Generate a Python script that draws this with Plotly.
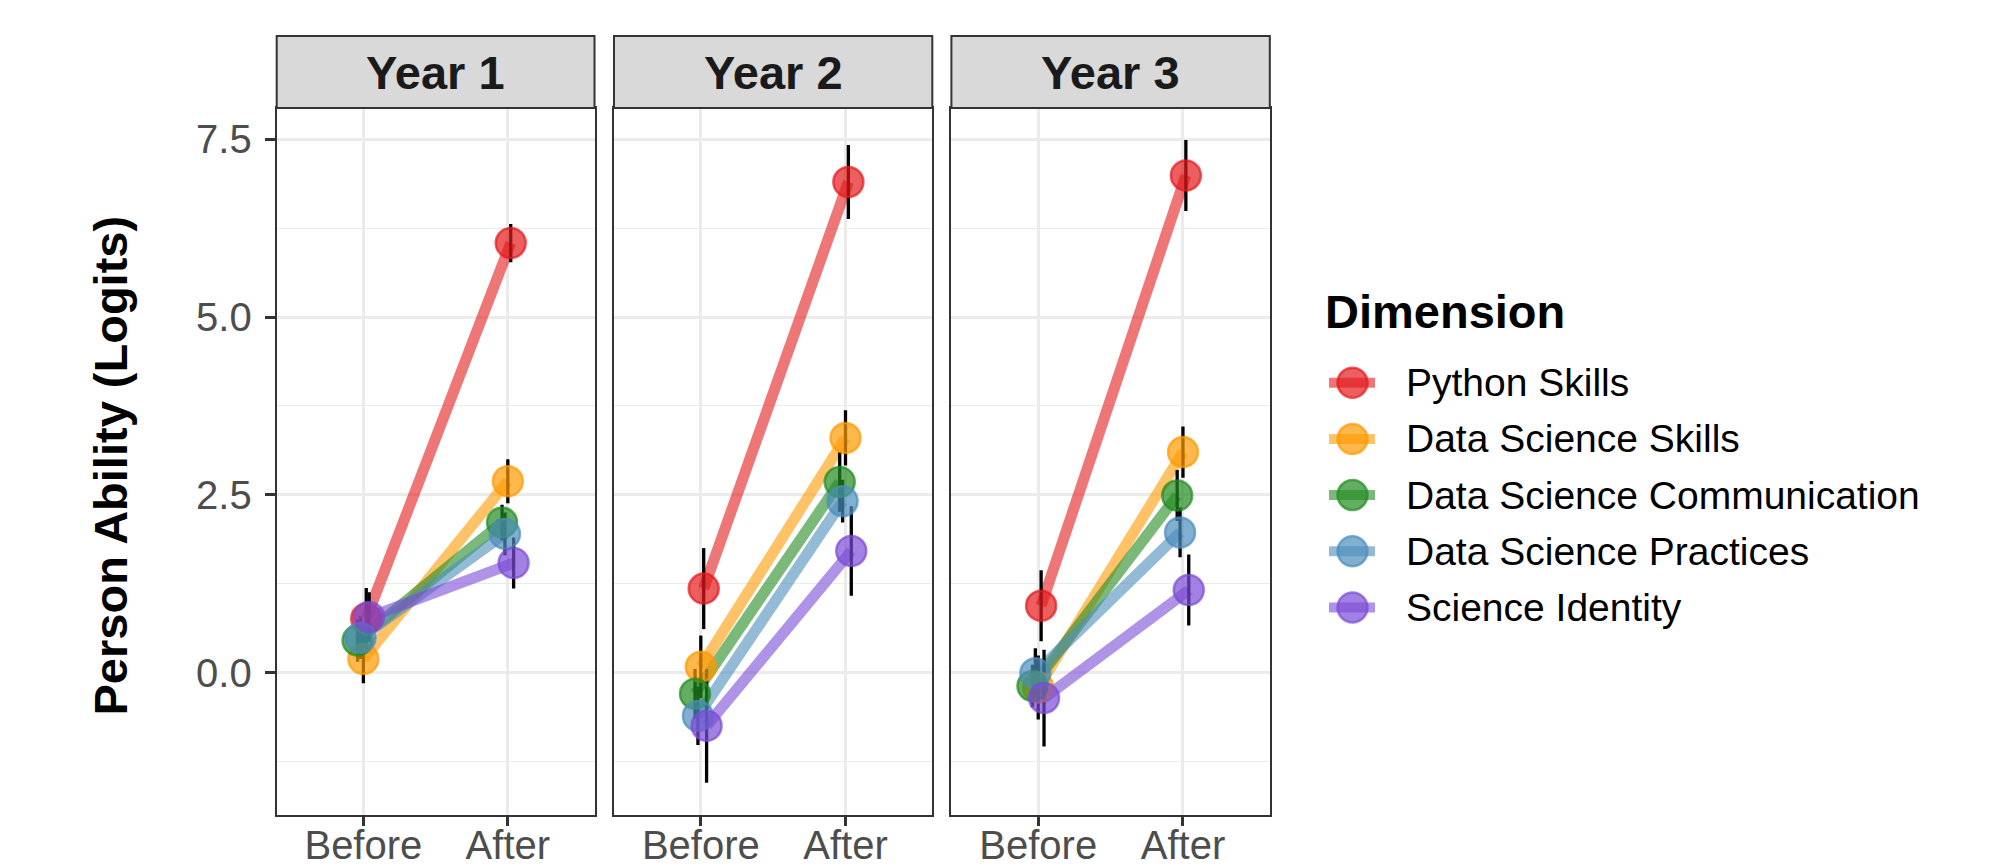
import plotly.graph_objects as go

# ---------------- data ----------------
years = ["Year 1", "Year 2", "Year 3"]
phases = ["Before", "After"]
dimensions = ["Python Skills", "Data Science Skills", "Data Science Communication",
              "Data Science Practices", "Science Identity"]
colors = ["#E41A1C", "#FF9A00", "#228B22", "#4C8DBA", "#7A4BD6"]

# person ability (logits), order follows `dimensions`
before_y1 = [0.76, 0.19, 0.45, 0.49, 0.78]
after_y1 = [6.04, 2.69, 2.11, 1.95, 1.54]
before_y2 = [1.18, 0.08, -0.30, -0.61, -0.75]
after_y2 = [6.90, 3.30, 2.68, 2.41, 1.71]
before_y3 = [0.94, -0.21, -0.19, -0.01, -0.36]
after_y3 = [6.99, 3.10, 2.49, 1.97, 1.16]

# standard errors (half-length of the error bars)
se_before_y1 = [0.43, 0.34, 0.30, 0.30, 0.35]
se_after_y1 = [0.27, 0.31, 0.25, 0.30, 0.36]
se_before_y2 = [0.57, 0.44, 0.35, 0.41, 0.80]
se_after_y2 = [0.52, 0.39, 0.42, 0.30, 0.63]
se_before_y3 = [0.50, 0.45, 0.30, 0.35, 0.68]
se_after_y3 = [0.50, 0.36, 0.36, 0.35, 0.50]

y_ticks = [0.0, 2.5, 5.0, 7.5]

before_all = [before_y1, before_y2, before_y3]
after_all = [after_y1, after_y2, after_y3]
se_before_all = [se_before_y1, se_before_y2, se_before_y3]
se_after_all = [se_after_y1, se_after_y2, se_after_y3]

# ---------------- layout constants ----------------
W, H = 1989, 867
FONT = "Liberation Sans, Arial, Helvetica, sans-serif"


def rgba(hexc, a):
    h = hexc.lstrip("#")
    r, g, b = int(h[0:2], 16), int(h[2:4], 16), int(h[4:6], 16)
    return f"rgba({r},{g},{b},{a})"


def px_x(x):
    return x / W


def px_y(y):
    return (H - y) / H


panel_px = [(276.7, 594.5), (614.0, 932.3), (951.4, 1269.8)]
plot_top, plot_bot = 108.0, 815.0
strip_top = 36.0
y_range = [-2.004, 7.94]
x_range = [0.4, 2.6]

# dodge (ggplot position_dodge, groups in alphabetical order)
alpha_rank = {d: i for i, d in enumerate(sorted(dimensions))}
dodge = {d: (alpha_rank[d] - 2) * 0.02 for d in dimensions}

fig = go.Figure()

axis_ids = ["", "2", "3"]

# lines layer
for p, yr in enumerate(years):
    ax = axis_ids[p]
    for i, d in enumerate(dimensions):
        xs = [1 + dodge[d], 2 + dodge[d]]
        ys = [before_all[p][i], after_all[p][i]]
        fig.add_trace(go.Scatter(
            x=xs, y=ys, mode="lines", xaxis="x" + ax, yaxis="y" + ax,
            line=dict(color=rgba(colors[i], 0.6), width=11),
            showlegend=False, hoverinfo="skip"))

# error bars layer
for p, yr in enumerate(years):
    ax = axis_ids[p]
    xs, ys, es = [], [], []
    for i, d in enumerate(dimensions):
        xs += [1 + dodge[d], 2 + dodge[d]]
        ys += [before_all[p][i], after_all[p][i]]
        es += [se_before_all[p][i], se_after_all[p][i]]
    fig.add_trace(go.Scatter(
        x=xs, y=ys, mode="markers", xaxis="x" + ax, yaxis="y" + ax,
        marker=dict(size=1, opacity=0),
        error_y=dict(type="data", array=es, visible=True, color="black",
                     thickness=3.3, width=0),
        showlegend=False, hoverinfo="skip"))

# points layer
for p, yr in enumerate(years):
    ax = axis_ids[p]
    for i, d in enumerate(dimensions):
        xs = [1 + dodge[d], 2 + dodge[d]]
        ys = [before_all[p][i], after_all[p][i]]
        fig.add_trace(go.Scatter(
            x=xs, y=ys, mode="markers", xaxis="x" + ax, yaxis="y" + ax,
            marker=dict(size=30, color=rgba(colors[i], 0.7),
                        line=dict(color=rgba(colors[i], 0.7), width=2.5)),
            name=d, showlegend=False))

layout = dict(
    width=W, height=H,
    margin=dict(l=0, r=0, t=0, b=0, autoexpand=False),
    paper_bgcolor="white", plot_bgcolor="white",
    font=dict(family=FONT, color="#4D4D4D"),
    showlegend=False,
)

shapes = []
annotations = []
for p, yr in enumerate(years):
    ax = axis_ids[p]
    x0, x1 = panel_px[p]
    layout["xaxis" + ax] = dict(
        domain=[px_x(x0), px_x(x1)], range=x_range, anchor="y" + ax,
        tickmode="array", tickvals=[1, 2], ticktext=phases,
        showgrid=True, gridcolor="#EBEBEB", gridwidth=2.7, zeroline=False,
        ticks="outside", ticklen=9, tickwidth=2.7, tickcolor="#333333",
        ticklabelstandoff=-15,
        showline=True, mirror=True, linecolor="#333333", linewidth=2,
        tickfont=dict(family=FONT, size=40, color="#4D4D4D"),
        fixedrange=True, automargin=False)
    layout["yaxis" + ax] = dict(
        domain=[px_y(plot_bot), px_y(plot_top)], range=y_range, anchor="x" + ax,
        tickmode="array", tickvals=y_ticks, ticktext=[f"{v:.1f}" for v in y_ticks],
        showgrid=True, gridcolor="#EBEBEB", gridwidth=2.7, zeroline=False,
        minor=dict(dtick=1.25, tick0=-1.25, showgrid=True, gridcolor="#EBEBEB",
                   gridwidth=1.4, ticks=""),
        ticks="outside" if p == 0 else "", ticklen=10, tickwidth=2.7,
        tickcolor="#333333", showticklabels=(p == 0),
        ticklabelstandoff=5,
        showline=True, mirror=True, linecolor="#333333", linewidth=2,
        tickfont=dict(family=FONT, size=40, color="#4D4D4D"),
        fixedrange=True, automargin=False)
    # facet strip
    shapes.append(dict(type="rect", xref="paper", yref="paper",
                       x0=px_x(x0), x1=px_x(x1), y0=px_y(plot_top), y1=px_y(strip_top),
                       fillcolor="#D9D9D9", line=dict(color="#333333", width=2)))
    annotations.append(dict(text=f"<b>{yr}</b>", xref="paper", yref="paper",
                            x=px_x((x0 + x1) / 2), y=px_y((plot_top + strip_top) / 2),
                            xanchor="center", yanchor="middle", showarrow=False,
                            font=dict(family=FONT, size=47, color="#1A1A1A")))

# y-axis title
annotations.append(dict(text="<b>Person Ability (Logits)</b>", xref="paper", yref="paper",
                        x=px_x(110), y=px_y((plot_top + plot_bot) / 2 + 4), textangle=-90,
                        xanchor="center", yanchor="middle", showarrow=False,
                        font=dict(family=FONT, size=47, color="black")))

# legend (drawn manually to match ggplot key size)
annotations.append(dict(text="<b>Dimension</b>", xref="paper", yref="paper",
                        x=px_x(1323), y=px_y(312), xanchor="left", yanchor="middle",
                        showarrow=False, font=dict(family=FONT, size=47, color="black")))
key_y0, key_dy = 382.7, 56.2
for i, d in enumerate(dimensions):
    cy = key_y0 + i * key_dy
    cx = 1352.5
    shapes.append(dict(type="line", xref="paper", yref="paper",
                       x0=px_x(1329), x1=px_x(1375), y0=px_y(cy), y1=px_y(cy),
                       line=dict(color=rgba(colors[i], 0.6), width=10)))
    r = 15
    shapes.append(dict(type="circle", xref="paper", yref="paper",
                       x0=px_x(cx - r), x1=px_x(cx + r), y0=px_y(cy + r), y1=px_y(cy - r),
                       fillcolor=rgba(colors[i], 0.7),
                       line=dict(color=rgba(colors[i], 0.7), width=2.5)))
    annotations.append(dict(text=d, xref="paper", yref="paper",
                            x=px_x(1404), y=px_y(cy), xanchor="left", yanchor="middle",
                            showarrow=False, font=dict(family=FONT, size=39, color="black")))

layout["shapes"] = shapes
layout["annotations"] = annotations
fig.update_layout(**layout)

fig.write_html("out.html",
               config={"displayModeBar": False},
               post_script="document.body.style.margin='0px';"
                           "document.body.style.overflow='hidden';")
